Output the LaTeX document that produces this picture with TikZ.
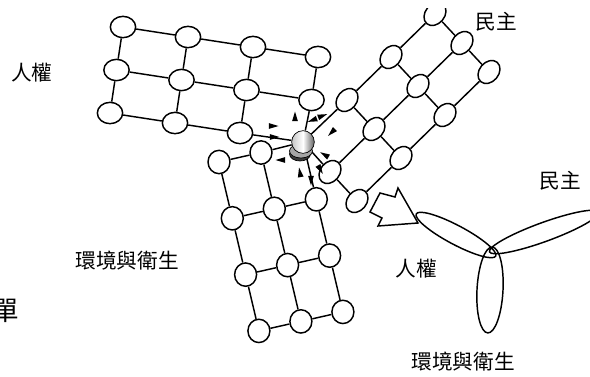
\documentclass[tikz,border=0pt]{standalone}
\usepackage{fontspec}
\newfontfamily\cjk{Noto Sans CJK TC}
\usetikzlibrary{shapes.geometric,backgrounds}

% small filled arrowhead: #1,#2 = centre, #3 = direction (0 right, 90 down)
\newcommand\wedgetip[3]{%
  \fill[shift={(#1,#2)}] (#3:5.5) -- ({#3+145}:5) -- ({#3-145}:5) -- cycle;}

\begin{document}
\begin{tikzpicture}[x=0.75pt,y=-0.75pt,
  edge/.style={line width=1.1pt},
  knotA/.style={draw, ellipse, line width=1.1pt, fill=white, inner sep=0pt,
                minimum width=19pt, minimum height=16pt},
  knotB/.style={knotA, minimum width=19pt, minimum height=14.5pt, rotate=50},
  knotC/.style={knotA, minimum width=16.5pt, minimum height=17.5pt},
  tagtext/.style={font=\cjk\fontsize{15.5}{18}\selectfont, inner sep=0pt},
  petal/.style={draw, line width=1.1pt}
]
\useasboundingbox (0,0) rectangle (590,376);

\begin{scope}
\clip (0,8) rectangle (590,376);

% the shared hub: stacked discs under a shaded ball
\fill[gray!45!black, draw=black, line width=0.5pt] (300,154) ellipse [x radius=10.5, y radius=7];
\fill[gray!70, draw=black, line width=0.5pt] (301,151) ellipse [x radius=11.5, y radius=7];
\node[circle, minimum size=17pt, inner sep=0pt, draw=black, line width=0.5pt,
      shading=axis, left color=gray!45, right color=gray!75!black, middle color=white,
      alias=a23, alias=b30, alias=c02] (hub) at (303,142) {};

% grid 1 (rows 0..2, columns 0..3)
\foreach \r in {0,1,2}{
  \foreach \c in {0,1,2,3}{
    \ifnum\numexpr\r*10+\c\relax=23 \else
      \node[knotA] (a\r\c) at ({123+65*\c-6.5*\r},{27+10*\c+43*\r}) {};
    \fi}}

% grid 2 (rows 0..3, columns 0..2)
\foreach \r in {0,1,2,3}{
  \foreach \c in {0,1,2}{
    \ifnum\numexpr\r*10+\c\relax=30 \else
      \node[knotB] (b\r\c) at ({303+44*(3-\r)+27*\c},{143-43*(3-\r)+29*\c}) {};
    \fi}}

% grid 3 (rows 0..3, columns 0..2)
\foreach \r in {0,1,2,3}{
  \foreach \c in {0,1,2}{
    \ifnum\numexpr\r*10+\c\relax=2 \else
      \node[knotC] (c\r\c) at ({303+42*(\c-2)+13.3*\r},{143-9.5*(\c-2)+56.3*\r}) {};
    \fi}}

\begin{scope}[on background layer]
  \foreach \r in {0,1,2}{\foreach \c/\d in {0/1,1/2,2/3}{\draw[edge] (a\r\c) -- (a\r\d);}}
  \foreach \c in {0,1,2,3}{\foreach \r/\s in {0/1,1/2}{\draw[edge] (a\r\c) -- (a\s\c);}}
  \foreach \r in {0,1,2,3}{\foreach \c/\d in {0/1,1/2}{\draw[edge] (b\r\c) -- (b\r\d);}}
  \foreach \c in {0,1,2}{\foreach \r/\s in {0/1,1/2,2/3}{\draw[edge] (b\r\c) -- (b\s\c);}}
  \foreach \r in {0,1,2,3}{\foreach \c/\d in {0/1,1/2}{\draw[edge] (c\r\c) -- (c\r\d);}}
  \foreach \c in {0,1,2}{\foreach \r/\s in {0/1,1/2,2/3}{\draw[edge] (c\r\c) -- (c\s\c);}}
\end{scope}

% arrowheads around the hub
\wedgetip{295}{117}{-90}
\wedgetip{313}{120}{160}
\wedgetip{322}{116}{-20}
\wedgetip{332}{132}{135}
\wedgetip{273}{126}{0}
\wedgetip{274}{137}{0}
\wedgetip{281}{160}{180}
\wedgetip{325}{155}{-150}
\wedgetip{320}{169}{60}
\wedgetip{300}{173}{-100}
\wedgetip{311}{180}{90}

% three-petal symbol
\draw[petal, rotate around={-28:(456,235)}] (456,235) ellipse [x radius=45, y radius=9.5];
\draw[petal, rotate around={20:(544,232)}] (544,232) ellipse [x radius=58, y radius=9.5];
\draw[petal, rotate around={-3:(490,290)}] (490,290) ellipse [x radius=13, y radius=43];

% hollow block arrow with a jagged tail
\draw[line width=1.1pt, fill=white, line join=miter]
  (380,193) -- (395,197) -- (398,188) -- (418,223) -- (378,226) -- (382,218) -- (370,212) -- cycle;
\end{scope}

% captions
\node[tagtext] (t1) at (32,73) {人權};
\node[tagtext] (t2) at (496,22) {民主};
\node[tagtext] (t3) at (560,181) {民主};
\node[tagtext] (t4) at (416,269) {人權};
\node[tagtext] (t5) at (127,261) {環境與衛生};
\node[tagtext] (t6) at (463,362) {環境與衛生};
\node[font=\cjk\fontsize{20}{24}\selectfont, inner sep=0pt, anchor=east] (t7) at (19,311) {單};
\end{tikzpicture}
\end{document}
